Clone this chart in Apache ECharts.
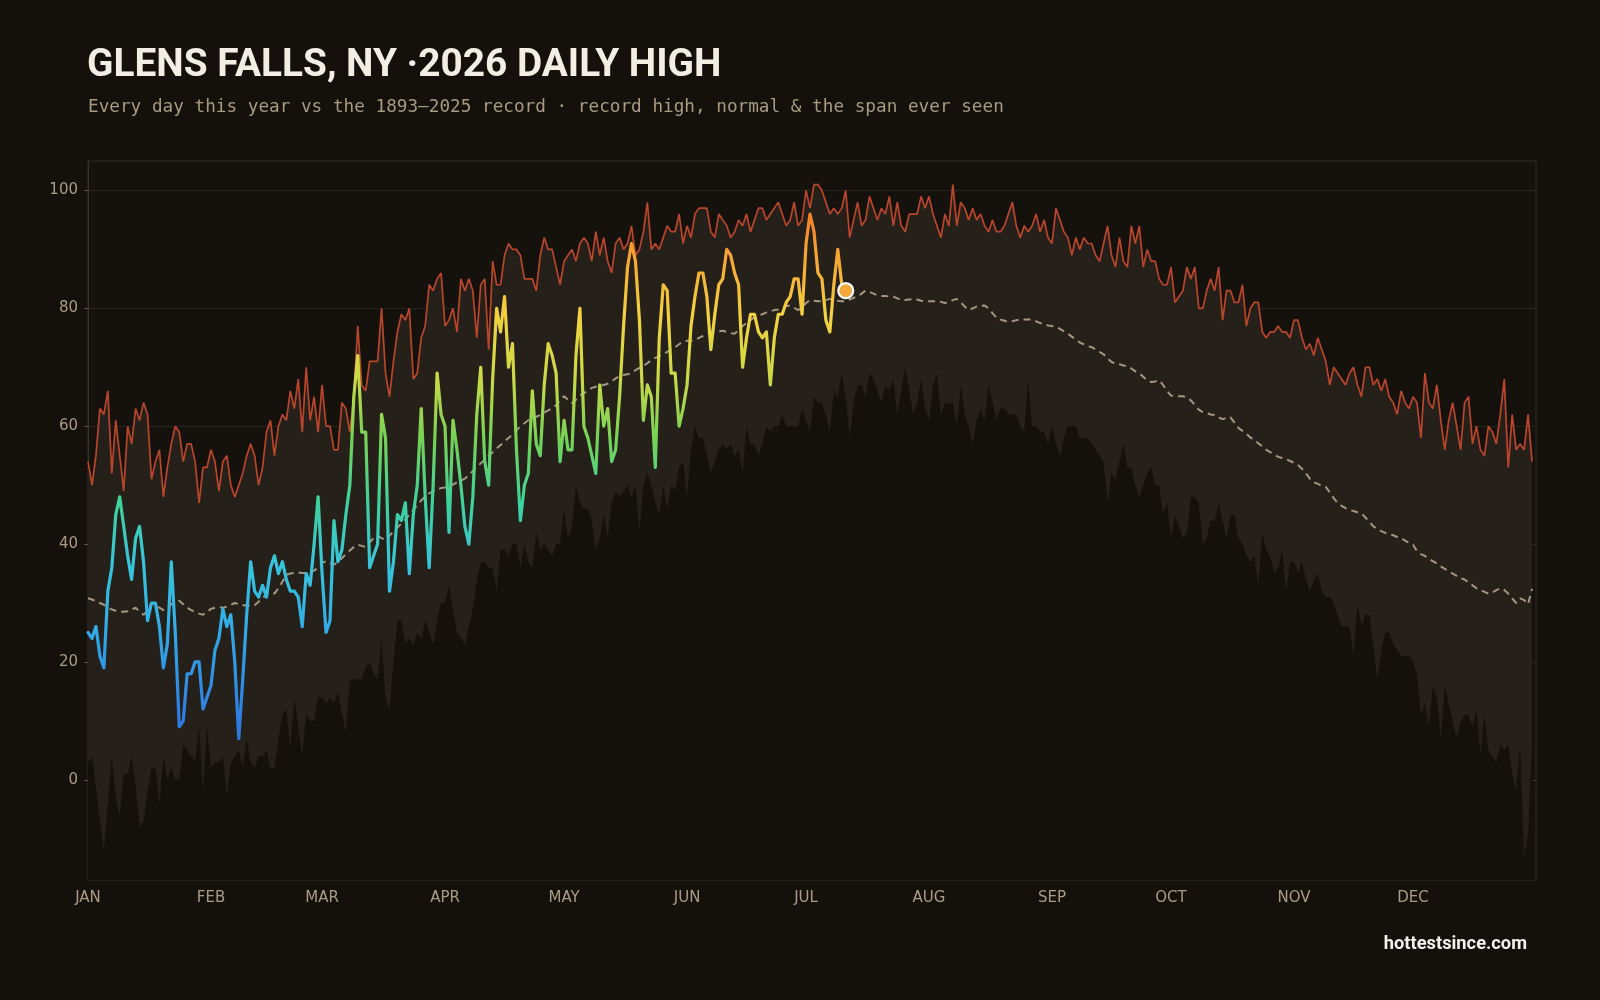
<!DOCTYPE html>
<html>
<head>
<meta charset="utf-8">
<title>Glens Falls, NY 2026 daily high</title>
<script src="https://cdn.jsdelivr.net/npm/echarts@6.0.0/dist/echarts.min.js"></script>
<style>
  html, body { margin: 0; padding: 0; background: #14110d; }
  #chart { width: 1600px; height: 1000px; }
</style>
</head>
<body>
<div id="chart"></div>
<script>
'use strict';
/* daily high: record, normal, record low span and this year (deg F), day 0 = Jan 1 */

var monthLabels = ['JAN', 'FEB', 'MAR', 'APR', 'MAY', 'JUN', 'JUL', 'AUG', 'SEP', 'OCT', 'NOV', 'DEC'];
var monthStartDays = [0, 31, 59, 90, 120, 151, 181, 212, 243, 273, 304, 334];
var yTicks = [0, 20, 40, 60, 80, 100];

// record high, one line per month
var recordHigh = [
  54,50,55,63,62,66,52,61,55,49,60,57,63,61,64,62,51,54,56,48,53,57,60,59,54,57,57,54,47,53,53,
  56,54,49,54,55,50,48,50,52,55,57,55,50,53,59,61,55,60,62,61,66,63,68,59,70,61,65,59,
  67,60,60,56,56,64,63,59,65,77,67,66,71,71,71,80,69,65,71,76,79,78,80,68,69,75,77,84,83,85,86,
  77,78,80,76,85,83,85,83,75,84,85,73,88,84,84,89,91,90,90,89,85,85,85,83,89,92,90,90,87,84,
  88,89,90,88,91,92,91,88,93,89,92,88,86,91,92,90,91,94,89,90,93,98,90,91,90,92,94,93,93,96,91,
  94,92,96,97,97,97,93,92,96,95,94,92,93,95,94,96,93,95,97,97,95,96,97,98,96,94,95,98,94,95,
  100,97,101,101,100,98,96,97,96,97,100,92,95,98,94,95,99,97,95,97,96,99,94,98,94,93,96,96,96,99,97,
  99,96,94,92,96,94,101,94,98,97,95,97,95,96,94,93,95,93,93,94,96,98,94,92,94,93,94,96,93,95,92,
  91,97,95,93,92,89,92,90,92,91,91,89,88,91,94,89,87,92,88,87,94,91,94,87,90,88,88,85,84,84,
  87,81,82,83,87,85,87,80,80,83,85,83,87,78,83,83,81,81,84,77,80,81,81,76,75,76,76,77,76,76,75,
  78,78,75,73,74,72,75,73,71,67,70,69,68,67,69,70,67,65,70,70,67,68,66,68,65,64,62,66,64,63,
  65,64,58,69,64,63,67,61,56,61,64,60,56,64,65,57,60,56,55,60,59,57,62,68,53,62,56,57,56,62,54
];

// record low of the daily high
var recordLow = [
  3,4,-1,-7,-12,-4,4,-3,-6,1,1,4,-1,-8,-7,-2,2,2,-4,4,0,2,0,0,6,5,4,3,9,-2,9,
  2,3,3,4,-3,3,4,5,2,7,3,2,4,4,5,2,2,7,11,12,5,14,9,4,11,10,10,14,
  14,13,14,13,15,11,8,17,17,17,17,19,20,18,17,24,14,12,20,27,27,23,24,23,25,24,27,25,23,27,30,
  30,33,29,25,24,23,26,29,34,37,37,36,36,32,39,39,38,40,40,36,40,37,36,42,39,40,39,38,40,40,
  46,41,43,50,47,46,46,44,39,41,45,41,47,49,48,49,50,48,50,42,50,52,50,47,45,50,46,50,49,53,54,
  48,56,60,58,58,55,52,54,56,57,56,57,55,56,52,60,57,57,55,57,60,59,60,60,62,60,60,60,60,63,
  61,59,65,64,64,62,59,66,65,69,65,58,64,67,67,65,69,68,66,64,67,66,68,62,66,70,66,62,64,68,63,
  61,67,69,62,64,64,64,60,67,62,60,57,61,63,61,67,64,61,63,63,62,62,62,60,59,68,60,60,59,59,57,
  60,57,55,58,60,60,60,58,58,58,57,56,55,54,47,52,51,54,57,53,53,50,48,50,52,53,50,50,45,47,
  41,45,43,41,42,48,48,47,40,41,44,44,47,44,41,45,45,41,40,38,37,38,33,42,39,38,35,36,39,32,37,
  37,35,37,34,32,34,35,32,31,31,30,28,26,26,26,21,30,26,28,28,23,17,22,25,25,23,22,21,21,21,
  20,18,11,13,9,16,14,7,16,13,10,7,10,11,11,9,12,4,11,5,4,3,6,5,6,1,-2,6,-13,-9,6
];

// normal daily high
var normalHigh = [
  30.8,30.6,30.3,30.0,29.7,29.3,28.9,28.7,28.6,28.5,28.6,28.9,29.2,28.5,28.0,28.6,30.0,29.6,29.2,28.8,29.2,29.8,30.2,30.4,29.8,29.2,28.8,28.5,28.2,28.0,28.5,
  29.0,29.2,29.3,29.2,29.4,29.7,30.0,29.8,29.6,29.6,29.5,29.6,30.2,30.8,31.6,31.8,31.6,32.5,33.6,34.8,35.0,35.1,35.2,35.1,35.1,35.3,35.5,36.0,
  36.8,37.1,36.8,36.5,37.0,37.6,38.3,38.9,39.5,39.9,39.7,39.5,40.3,41.0,41.4,41.0,40.7,41.4,42.2,42.8,43.5,44.2,45.0,45.8,46.6,47.4,48.1,48.6,49.0,49.3,49.5,
  49.6,49.9,50.1,50.5,50.8,51.1,51.7,52.4,53.1,53.7,54.3,55.0,55.6,56.2,56.8,57.4,58.0,58.6,59.3,60.0,60.5,61.0,61.3,61.6,61.9,62.3,62.7,63.0,63.6,64.4,
  65.1,64.5,63.9,64.5,65.2,65.6,66.0,66.5,66.7,66.8,67.0,67.2,67.6,68.1,68.5,68.7,68.8,69.0,69.5,69.9,70.2,70.7,71.2,71.6,71.9,72.2,72.6,73.0,73.4,73.9,74.4,
  74.5,74.5,74.6,75.0,75.3,75.6,76.0,76.1,76.1,76.2,76.0,75.8,75.7,76.3,77.0,77.5,78.0,78.5,78.8,79.0,79.3,79.5,79.7,79.8,80.1,80.4,80.5,80.1,79.7,80.2,
  80.9,81.4,81.3,81.2,81.2,81.4,81.6,81.5,81.3,81.2,81.2,81.5,81.8,82.0,82.5,83.0,82.8,82.5,82.2,82.1,82.1,82.0,82.0,81.7,81.4,81.4,81.5,81.6,81.5,81.3,81.2,
  81.2,81.2,81.2,81.1,80.9,81.1,81.4,81.6,81.0,80.3,79.7,80.0,80.3,80.4,80.5,80.0,79.2,78.4,78.1,77.9,77.7,77.8,78.0,78.1,78.1,78.1,78.1,77.8,77.5,77.3,77.1,
  77.0,76.9,76.5,76.1,75.7,75.2,74.7,74.2,73.9,73.6,73.4,73.0,72.6,72.2,71.5,70.9,70.6,70.5,70.3,70.2,69.8,69.3,69.0,68.4,67.8,67.5,67.6,67.8,67.0,66.0,
  65.2,65.1,65.1,65.1,64.8,64.4,63.6,62.8,62.4,62.2,62.0,61.9,61.5,61.2,61.4,61.5,60.6,59.7,59.2,58.7,58.1,57.6,57.1,56.6,56.0,55.6,55.2,54.8,54.6,54.4,54.1,
  53.8,53.4,52.8,52.0,51.1,50.5,50.2,49.9,49.7,48.8,47.8,47.0,46.5,46.1,45.8,45.6,45.4,45.2,44.5,43.8,43.0,42.6,42.2,41.9,41.7,41.5,41.2,41.0,40.6,40.2,
  39.9,38.8,38.3,38.0,37.5,37.1,36.7,36.2,35.8,35.4,35.0,34.6,34.2,34.0,33.5,33.0,32.5,32.2,31.9,31.6,31.8,32.2,32.5,32.2,31.6,30.8,30.0,30.8,30.5,29.8,32.4
];

// 2026 daily high so far (Jan 1 - Jul 11)
var high2026 = [
  25,24,26,21,19,32,36,45,48,43,38,34,41,43,37,27,30,30,26,19,23,37,25,9,10,18,18,20,20,12,14,
  16,22,24,29,26,28,20,7,17,28,37,32,31,33,31,36,38,35,37,34,32,32,31,26,35,33,40,48,
  35,25,27,44,37,39,45,50,65,72,59,59,36,38,40,62,58,32,37,45,44,47,35,45,50,63,48,36,50,69,62,
  60,42,61,56,50,43,40,48,62,70,54,50,68,80,76,82,70,74,56,44,50,52,66,57,55,67,74,72,69,54,
  61,56,56,72,80,60,58,55,52,67,60,63,54,56,65,77,87,91,88,78,61,67,65,53,75,84,83,69,69,60,63,
  67,77,82,86,86,82,73,79,84,85,90,89,86,84,70,75,79,79,76,75,76,67,75,79,79,81,82,85,85,79,
  91,96,93,86,85,78,76,84,90,84,83
];

function toPairs(arr) {
  return arr.map(function(v, i) { return [i, v]; });
}

var lastDay = high2026.length - 1;

var chart = echarts.init(document.getElementById('chart'));

var option = {
  backgroundColor: '#14110d',
  animation: false,
  title: [{
    text: 'GLENS FALLS, NY ·2026 DAILY HIGH',
    left: 87,
    top: 47,
    padding: 0,
    textStyle: {
      color: '#f3eee4',
      fontFamily: 'Roboto',
      fontWeight: 'bold',
      fontSize: 38.8
    }
  }, {
    text: 'Every day this year vs the 1893–2025 record · record high, normal & the span ever seen',
    left: 88,
    top: 98,
    padding: 0,
    textStyle: {
      color: '#a89b80',
      fontFamily: 'DejaVu Sans Mono',
      fontWeight: 'normal',
      fontSize: 17.7
    }
  }, {
    text: 'hottestsince.com',
    right: 73,
    top: 935,
    padding: 0,
    textStyle: {
      color: '#f5f2ea',
      fontFamily: 'Roboto',
      fontWeight: 'bold',
      fontSize: 18.3
    }
  }],
  grid: {
    left: 88,
    right: 64,
    top: 161,
    bottom: 120,
    show: true,
    backgroundColor: '#15120e',
    borderColor: '#2e2a23',
    borderWidth: 1
  },
  xAxis: {
    type: 'value',
    min: 0,
    max: 365,
    axisLine: { show: true, lineStyle: { color: '#3a342a' } },
    axisTick: {
      show: true,
      length: 4,
      customValues: monthStartDays,
      lineStyle: { color: '#5a5244' }
    },
    axisLabel: {
      customValues: monthStartDays,
      margin: 11,
      color: '#a99c83',
      fontFamily: 'DejaVu Sans',
      fontSize: 15,
      formatter: function(v) {
        var idx = monthStartDays.indexOf(v);
        return idx >= 0 ? monthLabels[idx] : '';
      }
    },
    splitLine: { show: false }
  },
  yAxis: {
    type: 'value',
    min: -17,
    max: 105,
    axisLine: { show: true, lineStyle: { color: '#3a342a' } },
    axisTick: {
      show: true,
      length: 4,
      customValues: yTicks,
      lineStyle: { color: '#5a5244' }
    },
    axisLabel: {
      customValues: yTicks,
      margin: 10,
      color: '#a99c83',
      fontFamily: 'DejaVu Sans',
      fontSize: 15
    },
    splitLine: { show: true, lineStyle: { color: '#29241e', width: 1 } }
  },
  visualMap: {
    show: false,
    type: 'continuous',
    seriesIndex: 3,
    dimension: 1,
    min: 5,
    max: 100,
    inRange: {
      color: ['#2d6fdf', '#2f8ce4', '#32ade6', '#37c5dc', '#3fd29c', '#74d257',
              '#cbd946', '#f3d240', '#f6a233', '#ee6a23']
    }
  },
  series: [{
    name: 'Record high',
    type: 'line',
    data: toPairs(recordHigh),
    showSymbol: false,
    symbol: 'none',
    lineStyle: { color: '#b9462b', width: 1.7 },
    areaStyle: { color: '#26201a', origin: 'start', opacity: 1 },
    z: 1
  }, {
    name: 'Record low',
    type: 'line',
    data: toPairs(recordLow),
    showSymbol: false,
    symbol: 'none',
    lineStyle: { width: 0 },
    areaStyle: { color: '#14110d', origin: 'start', opacity: 1 },
    z: 2
  }, {
    name: 'Normal',
    type: 'line',
    data: toPairs(normalHigh),
    showSymbol: false,
    symbol: 'none',
    lineStyle: { color: '#a39782', width: 2, type: [7, 5] },
    z: 3
  }, {
    name: '2026',
    type: 'line',
    data: toPairs(high2026),
    showSymbol: false,
    symbol: 'none',
    lineStyle: { width: 3.2, cap: 'round', join: 'round' },
    z: 4
  }, {
    name: 'Latest',
    type: 'scatter',
    data: [[lastDay, high2026[lastDay]]],
    symbolSize: 15,
    itemStyle: { color: '#f4a83a', borderColor: '#ffffff', borderWidth: 2.2, opacity: 1 },
    z: 5
  }]
};

chart.setOption(option);
</script>
</body>
</html>
